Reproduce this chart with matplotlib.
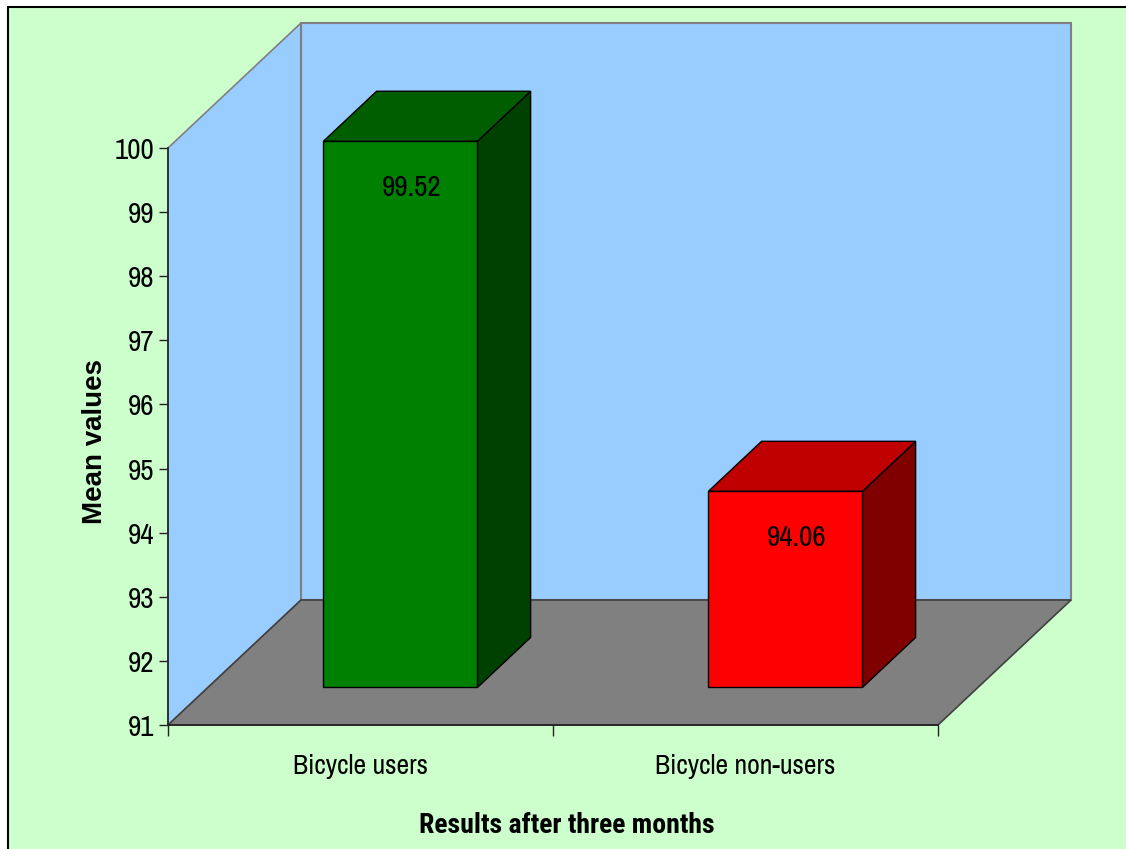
import matplotlib
matplotlib.use("Agg")
import matplotlib.pyplot as plt
from matplotlib.patches import Polygon, Rectangle

categories = ["Bicycle users", "Bicycle non-users"]
means = [99.52, 94.06]
yTicks = [91, 92, 93, 94, 95, 96, 97, 98, 99, 100]
xLabel = "Results after three months"
yLabel = "Mean values"

frontColors = ["#008000", "#FF0000"]
topColors = ["#005E00", "#C00000"]
sideColors = ["#004000", "#800000"]

narrow = ["Archivo Narrow", "Roboto Condensed", "Liberation Sans", "DejaVu Sans"]
narrowBold = ["Roboto Condensed", "Archivo Narrow", "Liberation Sans", "DejaVu Sans"]
plain = ["Liberation Sans", "DejaVu Sans"]
plt.rcParams['font.family'] = narrow

yMin, yMax = 91, 100
depthX = 0.3455   # category units the full depth moves right
depthY = 1.95     # value units the full depth moves up
barWidth = 0.4
barFront, barBack = 0.3, 0.7


def project(x, v, d):
    # fake 3d: push a point back by depth fraction d
    return (x + d * depthX, v + d * depthY)


fig = plt.figure(figsize=(11.26, 8.49), dpi=100)
fig.patch.set_facecolor("white")
fig.add_artist(Rectangle((8 / 1126, -0.05), 1.1, 1 - 7 / 849 + 0.05,
                         transform=fig.transFigure, facecolor="#CCFFCC",
                         edgecolor="black", linewidth=1.5, zorder=-1))

ax = fig.add_axes([168 / 1126, 1 - 725 / 849, 770 / 1126, 577 / 849])
ax.set_facecolor("none")
nCat = len(categories)
ax.set_xlim(0, nCat)
ax.set_ylim(yMin, yMax)

# walls and floor
floor = [project(0, yMin, 0), project(nCat, yMin, 0), project(nCat, yMin, 1), project(0, yMin, 1)]
back = [project(0, yMin, 1), project(nCat, yMin, 1), project(nCat, yMax, 1), project(0, yMax, 1)]
side = [project(0, yMin, 0), project(0, yMax, 0), project(0, yMax, 1), project(0, yMin, 1)]
ax.add_patch(Polygon(side, closed=True, facecolor="#99CCFF", edgecolor="#808080", linewidth=1.2, clip_on=False, zorder=0.5))
ax.add_patch(Polygon(back, closed=True, facecolor="#99CCFF", edgecolor="#808080", linewidth=1.5, clip_on=False, zorder=0.5))
ax.add_patch(Polygon(floor, closed=True, facecolor="#808080", edgecolor="#404040", linewidth=1.2, clip_on=False, zorder=0.6))

# bars
for i, value in enumerate(means):
    left = i + 0.5 - barWidth / 2
    right = left + barWidth
    front = [project(left, yMin, barFront), project(right, yMin, barFront),
             project(right, value, barFront), project(left, value, barFront)]
    top = [project(left, value, barFront), project(right, value, barFront),
           project(right, value, barBack), project(left, value, barBack)]
    sideFace = [project(right, yMin, barFront), project(right, value, barFront),
                project(right, value, barBack), project(right, yMin, barBack)]
    for poly, col in ((sideFace, sideColors[i]), (top, topColors[i]), (front, frontColors[i])):
        ax.add_patch(Polygon(poly, closed=True, facecolor=col, edgecolor="black",
                             linewidth=1, clip_on=False, zorder=2))
    ax.annotate(f"{value:.2f}", xy=project(i + 0.5, value, barFront), xytext=(8.3, -33.5),
                textcoords="offset points", ha="center", va="center", fontsize=21,
                color="black", zorder=3, annotation_clip=False)

ax.spines["top"].set_visible(False)
ax.spines["right"].set_visible(False)
for s in ("left", "bottom"):
    ax.spines[s].set_color("#222222")
    ax.spines[s].set_linewidth(1.2)
    ax.spines[s].set_zorder(1)

ax.set_yticks(yTicks)
ax.tick_params(axis="y", direction="out", length=6.5, width=1, pad=3, labelsize=21, colors="#222222", labelcolor="black")

ax.set_xticks(range(nCat + 1))
ax.set_xticklabels([])
ax.set_xticks([i + 0.5 for i in range(nCat)], minor=True)
ax.set_xticklabels(categories, minor=True)
ax.tick_params(axis="x", which="major", direction="out", length=8, width=1, colors="#222222")
ax.tick_params(axis="x", which="minor", length=0, pad=21, labelsize=20)

ax.set_xlabel(xLabel, fontsize=20, fontweight="bold", family=narrowBold)
ax.xaxis.set_label_coords(0.518, -0.151)
ax.set_ylabel(yLabel, fontsize=20, fontweight="bold", family=plain)
ax.yaxis.set_label_coords(-0.078, 0.4905)

fig.savefig("out.png", dpi=100, facecolor=fig.get_facecolor())
